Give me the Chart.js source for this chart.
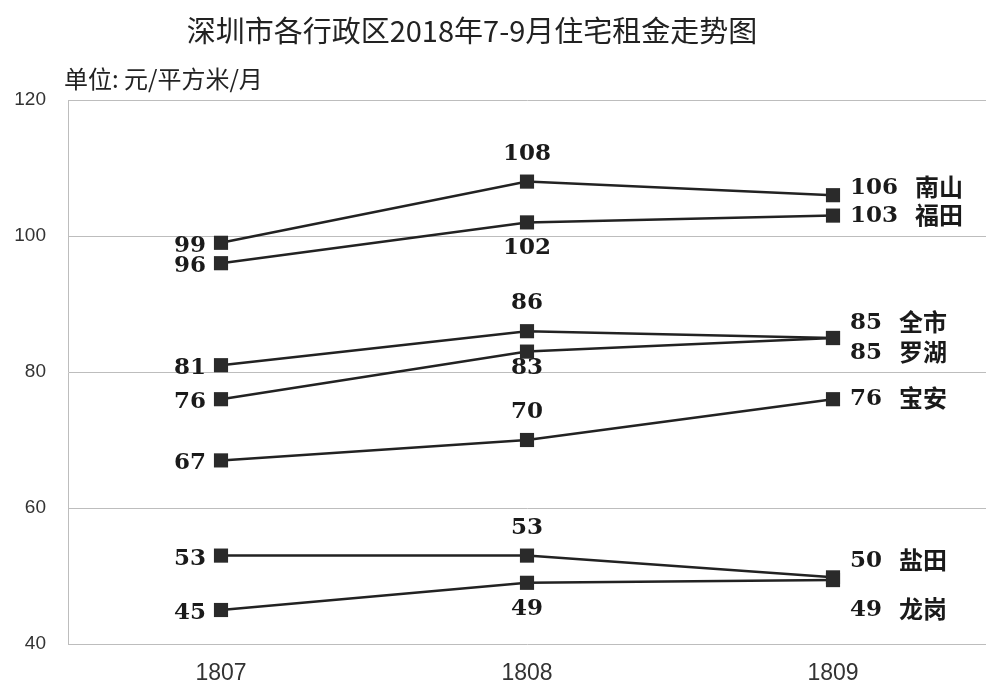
<!DOCTYPE html>
<html>
<head>
<meta charset="utf-8">
<script src="https://cdn.jsdelivr.net/npm/chart.js@4/dist/chart.umd.min.js"></script>
<style>
    html, body { margin: 0; padding: 0; background: #fff; overflow: hidden; }
    canvas { display: block; }
</style>
</head>
<body>
<canvas id="rentChart" width="986" height="687"></canvas>
<script>
/* global Chart */

const months = ['1807', '1808', '1809'];
const districts = ['南山', '福田', '全市', '罗湖', '宝安', '盐田', '龙岗'];

const nanshan = [99, 108, 106];
const futian = [96, 102, 103];
const quanshi = [81, 86, 85];
const luohu = [76, 83, 85];
const baoan = [67, 70, 76];
const yantian = [53, 53, 49.8];
const longgang = [45, 49, 49.4];

const yTicks = [40, 60, 80, 100, 120];

// where the middle (1808) label sits: A = above, B = below
const midPlace = ['A', 'B', 'A', 'B', 'A', 'A', 'B'];
// vertical nudge of the end label (1809)
const endShift = [-7, 0, -15, 15, 0, -16, 30];

const numFont = 'bold 23px "DejaVu Serif", "Liberation Serif", serif';
const nameFont = 'bold 24px "Noto Sans CJK SC", sans-serif';

const labelPlugin = {
    id: 'labelPlugin',
    afterDraw: (chart) => {
        const ctx = chart.ctx;
        ctx.save();
        // title + unit
        ctx.fillStyle = '#222';
        ctx.textBaseline = 'middle';
        ctx.textAlign = 'center';
        ctx.font = '29px "Noto Sans CJK SC", sans-serif';
        ctx.fillText('深圳市各行政区2018年7-9月住宅租金走势图', 472, 31);
        ctx.textAlign = 'left';
        ctx.font = '24px "Noto Sans CJK SC", sans-serif';
        ctx.fillText('单位: 元/平方米/月', 64, 79);

        chart.data.datasets.forEach((ds, i) => {
            const meta = chart.getDatasetMeta(i);
            meta.data.forEach((pt, j) => {
                const txt = String(Math.round(ds.data[j]));
                ctx.font = numFont;
                ctx.fillStyle = '#1a1a1a';
                if (j === 0) {
                    ctx.textAlign = 'right';
                    ctx.fillText(txt, pt.x - 15, pt.y + 3);
                } else if (j === 1) {
                    ctx.textAlign = 'center';
                    let dy = midPlace[i] === 'A' ? -28 : 26;
                    if (i === 3) dy = 16;
                    ctx.fillText(txt, pt.x, pt.y + dy);
                } else {
                    ctx.textAlign = 'left';
                    const y = pt.y + endShift[i];
                    ctx.fillText(txt, pt.x + 17, y);
                    const w = ctx.measureText(txt).width;
                    ctx.font = nameFont;
                    ctx.fillText(ds.label, pt.x + 17 + w + 17, y - 1);
                }
            });
        });
        ctx.restore();
    }
};

const series = [nanshan, futian, quanshi, luohu, baoan, yantian, longgang];

const datasets = districts.map((d, i) => ({
    label: d,
    data: series[i],
    borderColor: '#222',
    backgroundColor: '#2a2a2a',
    borderWidth: 2.5,
    pointStyle: 'rect',
    pointRadius: 10,
    pointBorderWidth: 0,
    pointBackgroundColor: '#2a2a2a',
    tension: 0
}));

const rentChart = new Chart(document.getElementById('rentChart'), {
    type: 'line',
    data: {
        labels: months,
        datasets: datasets
    },
    options: {
        responsive: false,
        animation: false,
        devicePixelRatio: 1,
        layout: {
            autoPadding: false,
            padding: {top: 100, left: 0, right: 0, bottom: 0}
        },
        plugins: {
            legend: {display: false},
            tooltip: {enabled: false}
        },
        scales: {
            x: {
                offset: true,
                grid: {display: false},
                border: {display: false},
                ticks: {
                    color: '#333',
                    padding: 8,
                    font: {family: '"Liberation Sans", Arial, sans-serif', size: 23}
                },
                afterFit: (axis) => {
                    axis.height = 43;
                    axis.paddingLeft = 0;
                    axis.paddingRight = 0;
                }
            },
            y: {
                min: 40,
                max: 120,
                afterBuildTicks: (axis) => { axis.ticks = yTicks.map(v => ({value: v})); },
                grid: {color: '#bdbdbd', lineWidth: 1, drawTicks: false},
                border: {color: '#bdbdbd'},
                ticks: {
                    color: '#333',
                    padding: 22,
                    font: {family: '"Liberation Sans", Arial, sans-serif', size: 19}
                },
                afterFit: (axis) => {
                    axis.width = 68;
                    axis.paddingTop = 0;
                    axis.paddingBottom = 0;
                }
            }
        }
    },
    plugins: [labelPlugin]
});
</script>
</body>
</html>
